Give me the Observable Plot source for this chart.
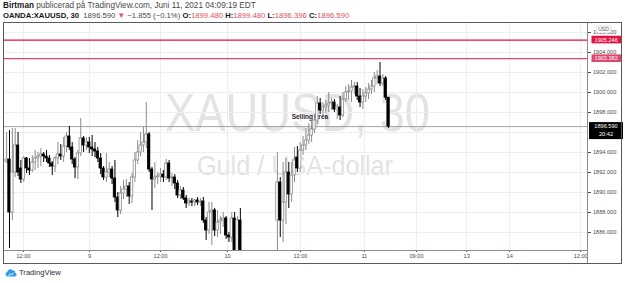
<!DOCTYPE html>
<html><head><meta charset="utf-8">
<script src="https://cdn.jsdelivr.net/npm/d3@7"></script>
<script src="https://cdn.jsdelivr.net/npm/@observablehq/plot@0.6"></script>
<style>
body{margin:0;background:#fff;font-family:"Liberation Sans",Arial,sans-serif;}
#wrap{position:relative;width:625px;height:283px;overflow:hidden;background:#fff;}
.hdr{position:absolute;left:3px;color:#4a4a4a;white-space:nowrap;line-height:1;}
.hdr b{color:#131722;}
.red{color:#e8505b;}
#chart{position:absolute;left:0;top:22px;}
#border{position:absolute;left:3px;top:22px;width:619px;height:242px;box-sizing:border-box;border:1px solid #5a5a5a;pointer-events:none;}
#footer{position:absolute;left:5px;top:268px;font-size:7.6px;color:#2a2e39;display:flex;align-items:center;gap:2px;}
</style></head><body>
<div id="wrap">
  <div class="hdr" id="h1" style="top:2px;font-size:8.2px"></div>
  <div class="hdr" id="h2" style="top:12px;font-size:7.7px"></div>
  <div id="chart"></div>
  <div id="border"></div>
  <div id="footer"><svg width="12" height="9" viewBox="0 0 12 9"><path d="M2.5 8.5 A2.3 2.3 0 0 1 2.2 4 A3 3 0 0 1 7.6 2.6 A2.4 2.4 0 0 1 10.4 5 A1.8 1.8 0 0 1 10 8.5 Z" fill="#2e9cf0"/><path d="M3 8.3 L5.2 5.6 L6.6 6.9 L8.6 4.6" stroke="#fff" stroke-width="0.9" fill="none"/></svg><span id="brand"></span></div>
</div>
<script>
// ---- data ----
const author = "Birtman";
const published = "publicerad på TradingView.com, Juni 11, 2021 04:09:19 EDT";
const symbolLine = "OANDA:XAUUSD, 30";
const changeText = "−1.855 (−0.1%)";
const brand = "TradingView";
const watermarkSymbol = "XAUUSD, 30";
const watermarkName = "Guld / USA-dollar";
const countdown = "20:42";
const currencyBadge = "USD";

const opens = [1893.1,1893.3,1888.0,1892.0,1894.7,1892.4,1891.3,1893.4,1892.4,1892.2,
 1893.0,1893.4,1893.6,1893.8,1893.6,1893.4,1892.9,1892.6,1893.4,1893.8,
 1893.6,1894.6,1895.6,1894.5,1893.3,1892.5,1893.9,1895.4,1894.7,1895.0,
 1894.5,1894.3,1894.1,1893.4,1892.4,1891.5,1892.0,1892.3,1891.4,1889.5,
 1888.2,1889.9,1890.3,1890.6,1889.6,1891.5,1893.2,1894.0,1894.7,1895.0,
 1895.8,1892.3,1891.3,1891.5,1891.6,1891.8,1891.5,1892.9,1891.4,1891.5,
 1890.9,1889.7,1890.2,1889.4,1888.9,1889.1,1889.0,1889.2,1889.0,1889.1,
 1887.2,1886.2,1888.0,1888.2,1886.2,1887.0,1887.2,1887.4,1885.7,1885.5,
 1887.4,1883.8,1887.2,1883.2,1882.1,1882.8,1881.5,1882.2,1881.8,1880.6,
 1881.4,1882.5,1882.0,1882.9,1883.3,1887.2,1891.0,1887.2,1889.0,1892.0,
 1889.8,1891.7,1893.5,1892.4,1894.2,1894.7,1895.2,1895.7,1896.3,1897.2,
 1898.9,1898.2,1898.5,1898.7,1898.9,1899.0,1898.3,1898.5,1897.7,1899.3,
 1900.0,1900.1,1900.5,1900.6,1899.6,1899.0,1899.6,1899.9,1900.3,1900.6,
 1901.4,1901.6,1900.9,1901.4,1899.48];
const highs = [1896.0,1896.2,1896.4,1896.4,1896.0,1893.2,1893.6,1893.5,1893.4,1893.7,
 1894.2,1894.0,1894.4,1894.0,1894.2,1893.7,1893.1,1893.6,1895.0,1894.8,
 1895.5,1896.0,1896.6,1895.0,1893.5,1894.2,1897.4,1895.6,1895.5,1895.5,
 1895.7,1895.0,1894.5,1893.9,1892.6,1893.9,1893.0,1892.6,1893.2,1890.0,
 1890.6,1891.2,1891.3,1891.0,1891.9,1894.0,1895.2,1896.0,1896.5,1899.0,
 1896.0,1892.5,1893.0,1892.0,1892.4,1892.2,1893.3,1893.2,1891.9,1891.8,
 1891.2,1890.6,1890.5,1889.7,1889.4,1889.4,1889.3,1889.5,1889.4,1889.5,
 1887.5,1889.0,1889.0,1888.4,1888.2,1887.6,1888.0,1887.6,1886.0,1888.0,
 1888.0,1887.6,1888.4,1883.8,1883.4,1883.6,1882.6,1883.2,1882.4,1881.8,
 1883.0,1883.5,1883.2,1883.7,1883.9,1894.0,1891.5,1893.0,1893.4,1893.0,
 1893.0,1894.5,1894.6,1895.0,1895.6,1896.4,1896.9,1897.2,1897.8,1899.6,
 1899.4,1899.0,1899.2,1900.0,1899.4,1899.3,1898.8,1899.6,1900.0,1900.6,
 1900.8,1901.2,1901.0,1901.0,1900.4,1900.3,1900.5,1900.9,1901.2,1902.0,
 1902.2,1903.0,1901.8,1901.6,1899.48];
const lows = [1892.9,1884.4,1887.2,1891.5,1891.6,1890.9,1891.0,1891.9,1891.7,1892.0,
 1892.2,1892.4,1892.6,1893.0,1893.0,1892.5,1891.7,1892.0,1892.8,1893.2,
 1893.0,1894.0,1894.2,1892.8,1891.4,1891.3,1893.6,1894.0,1894.2,1893.9,
 1893.6,1893.5,1893.0,1891.8,1891.2,1891.0,1891.5,1890.8,1889.0,1887.5,
 1887.8,1889.3,1889.5,1888.8,1888.9,1891.0,1892.8,1893.6,1894.0,1894.4,
 1892.0,1888.2,1890.4,1890.8,1891.0,1891.0,1891.2,1891.0,1890.6,1890.3,
 1889.4,1889.3,1889.2,1888.4,1888.6,1888.6,1888.6,1888.7,1888.6,1886.9,
 1885.2,1885.8,1884.7,1885.6,1885.5,1885.8,1886.5,1885.3,1885.0,1885.0,
 1883.0,1883.5,1882.5,1881.6,1881.2,1881.0,1880.4,1881.4,1880.0,1879.8,
 1880.8,1881.6,1881.2,1882.0,1882.4,1883.0,1885.5,1885.0,1886.8,1888.4,
 1889.0,1891.0,1892.0,1892.0,1893.7,1894.2,1894.8,1895.0,1895.9,1896.8,
 1897.8,1897.7,1897.9,1898.0,1898.2,1898.0,1897.3,1897.2,1897.5,1899.0,
 1899.2,1899.0,1899.8,1899.2,1898.5,1898.3,1899.0,1899.3,1899.8,1900.0,
 1900.8,1900.6,1900.6,1899.2,1896.396];
const closes = [1893.3,1888.0,1892.0,1894.7,1892.0,1891.3,1893.4,1892.4,1892.2,1893.0,
 1893.4,1893.6,1893.8,1893.6,1893.4,1892.9,1892.6,1893.4,1893.8,1893.6,
 1894.6,1895.6,1894.5,1893.3,1892.5,1893.9,1895.4,1894.7,1895.0,1894.5,
 1894.3,1894.1,1893.4,1892.4,1891.5,1892.0,1892.3,1891.4,1889.5,1888.2,
 1889.9,1890.3,1890.6,1889.6,1891.5,1893.2,1894.0,1894.7,1895.0,1895.8,
 1892.3,1891.3,1891.5,1891.6,1891.8,1891.5,1892.9,1891.4,1891.5,1890.9,
 1889.7,1890.2,1889.4,1888.9,1889.1,1889.0,1889.2,1889.0,1889.1,1887.2,
 1886.2,1888.0,1888.2,1886.2,1887.0,1887.2,1887.4,1885.7,1885.5,1887.4,
 1883.8,1887.2,1883.2,1882.1,1882.8,1881.5,1882.2,1881.8,1880.6,1881.4,
 1882.5,1882.0,1882.9,1883.3,1883.6,1891.0,1887.2,1889.0,1892.0,1889.8,
 1891.7,1893.2,1892.4,1894.2,1894.7,1895.2,1895.7,1896.3,1897.2,1898.9,
 1898.2,1898.5,1898.7,1898.9,1899.0,1898.3,1898.5,1897.7,1899.3,1900.0,
 1900.1,1900.5,1900.6,1899.6,1899.0,1899.6,1899.9,1900.3,1900.6,1901.4,
 1901.6,1900.9,1901.4,1899.48,1896.59];

// time axis (bar index positions and labels)
const tickPos = [5.9, 29.1, 54.0, 77.5, 103.1, 125.5, 143.8, 161.4, 176.5, 201.4];
const tickLabels = ["12:00","9","12:00","10","12:00","11","09:00","13","14","12:00"];
// price axis (grid every 2; the label under the last-price box is hidden as in the original)
const priceTicks = [1886,1888,1890,1892,1894,1896,1898,1900,1902,1904,1906];
const priceAxisLabels = [1886,1888,1890,1892,1894,1898,1900,1902,1904,1906];
// horizontal levels
const levelValues = [1905.246, 1903.382];
const levelColors = ["#e8103f", "#e2456e"];
// text annotation
const annotText = ["Selling area"];
const annotIndex = [106.4];
const annotPrice = [1897.55];

// ---- header / footer ----
const N = opens.length;
const last = N - 1;
const f3 = v => v.toFixed(3);
document.getElementById("h1").innerHTML = `<b>${author}</b> ${published}`;
document.getElementById("h2").innerHTML =
  `<b>${symbolLine}</b>&nbsp; ${f3(closes[last])} <span class="red">▼</span> ${changeText} ` +
  `<b>O:</b><span class="red">${f3(opens[last])}</span> <b>H:</b><span class="red">${f3(highs[last])}</span> ` +
  `<b>L:</b><span class="red">${f3(lows[last])}</span> <b>C:</b><span class="red">${f3(closes[last])}</span>`;
document.getElementById("brand").textContent = brand;

// ---- chart ----
const candles = d3.range(N).map(i => ({i, o: opens[i], h: highs[i], l: lows[i], c: closes[i], up: closes[i] >= opens[i]}));
const tickText = new Map(tickPos.map((p, k) => [p, tickLabels[k]]));
const bullColor = "#8c8c8c", bearColor = "#000000";

const chart = Plot.plot({
  width: 625, height: 242,
  marginLeft: 3, marginRight: 38, marginTop: 0, marginBottom: 14,
  style: {background: "transparent", fontFamily: "'Liberation Sans', Arial, sans-serif", fontSize: "5.6px", color: "#4c4c4c", overflow: "visible"},
  x: {domain: [-1.1, 203.8], ticks: tickPos, tickFormat: d => tickText.get(d), tickSize: 2, tickPadding: 2, label: null},
  y: {domain: [1884.2, 1907.0], axis: "right", ticks: priceAxisLabels, tickFormat: d => d.toFixed(3), tickSize: 3, tickPadding: 2.5, label: null},
  marks: [
    Plot.ruleY(priceTicks, {stroke: "#eceef2"}),
    Plot.ruleX(tickPos, {stroke: "#eceef2"}),
    Plot.ruleY([closes[last]], {stroke: "#a3a3a3"}),
    Plot.ruleY(levelValues, {stroke: (d, i) => levelColors[i], strokeWidth: 1.2}),
    Plot.text(annotText, {x: (d, i) => annotIndex[i], y: (d, i) => annotPrice[i], text: d => d, fontSize: 6.5, fontWeight: "bold", fill: "#1e222d"}),
    Plot.ruleX(candles, {x: "i", y1: "l", y2: "h", stroke: d => d.up ? bullColor : bearColor, strokeWidth: 1, clip: true}),
    Plot.rect(candles, {x1: d => d.i - 0.42, x2: d => d.i + 0.42, y1: "o", y2: "c",
      fill: d => d.up ? "#ffffff" : bearColor, stroke: d => d.up ? bullColor : bearColor, strokeWidth: 0.8, clip: true}),
    Plot.frame({stroke: "#8c8c8c"})
  ]
});
document.getElementById("chart").appendChild(chart);

// overlays positioned through Plot's y scale
const yS = chart.scale("y");
const fy = (typeof yS.apply === "function") ? yS.apply : d3.scaleLinear(yS.domain, yS.range);
const svg = d3.select(chart);
const xR = 625 - 38;
const fontFam = "'Liberation Sans', Arial, sans-serif";

// watermark (behind everything)
const wm = svg.insert("g", "g").attr("fill", "#e3e3e3").attr("font-family", fontFam);
wm.append("text").attr("x", 297.5).attr("y", 109).attr("text-anchor", "middle").attr("font-size", 53)
  .attr("textLength", 265).attr("lengthAdjust", "spacingAndGlyphs").text(watermarkSymbol);
wm.append("text").attr("x", 295).attr("y", 153).attr("text-anchor", "middle").attr("font-size", 28)
  .attr("textLength", 196).attr("lengthAdjust", "spacingAndGlyphs").text(watermarkName);

// price-axis separator through the time axis
svg.append("line").attr("x1", xR + 0.5).attr("x2", xR + 0.5).attr("y1", 228).attr("y2", 242).attr("stroke", "#8c8c8c");

// level labels
const ov = svg.append("g").attr("font-family", fontFam).attr("font-size", 5.6);
levelValues.forEach((v, k) => {
  const y = fy(v);
  ov.append("rect").attr("x", xR + 4.5).attr("y", y - 3.8).attr("width", 29.5).attr("height", 7.6).attr("fill", levelColors[k]);
  ov.append("text").attr("x", xR + 19.2).attr("y", y).attr("dy", "0.36em").attr("text-anchor", "middle").attr("fill", "#fff").text(f3(v));
});
// last price label
{
  const y = fy(closes[last]);
  ov.append("rect").attr("x", xR + 2).attr("y", y - 4).attr("width", 34).attr("height", 17).attr("fill", "#000");
  ov.append("text").attr("x", xR + 19).attr("y", y).attr("dy", "0.36em").attr("text-anchor", "middle").attr("fill", "#fff").text(f3(closes[last]));
  ov.append("text").attr("x", xR + 19).attr("y", y + 8).attr("dy", "0.36em").attr("text-anchor", "middle").attr("fill", "#fff").text(countdown);
}
// currency badge
ov.append("rect").attr("x", 596).attr("y", 4).attr("width", 15).attr("height", 7).attr("rx", 2).attr("fill", "#fff").attr("stroke", "#c2c2c2").attr("stroke-width", 0.6);
ov.append("text").attr("x", 603.5).attr("y", 7.6).attr("dy", "0.35em").attr("text-anchor", "middle").attr("font-size", 5).attr("fill", "#555").text(currencyBadge);
</script>
</body></html>
